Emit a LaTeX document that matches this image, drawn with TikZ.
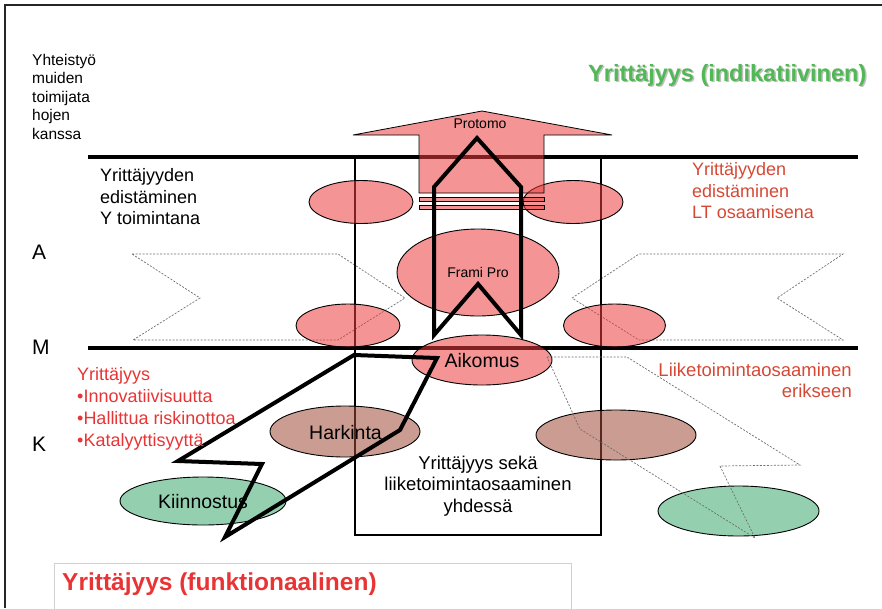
\documentclass[tikz,border=0pt]{standalone}
\usepackage{fontspec}
\setmainfont{Liberation Sans}
\definecolor{pinkbase}{RGB}{235,60,60}
\definecolor{brownbase}{RGB}{160,75,55}
\definecolor{greenbase}{RGB}{60,170,110}
\definecolor{brightred}{RGB}{232,52,52}
\definecolor{rustred}{RGB}{214,72,52}
\definecolor{titlegreen}{RGB}{82,184,86}
\definecolor{dashgray}{RGB}{110,110,110}
\begin{document}
\begin{tikzpicture}[x=1pt,y=-1pt,
  pinkel/.style={draw=black, line width=0.9pt, fill=pinkbase, fill opacity=0.55},
  brownel/.style={draw=black, line width=0.9pt, fill=brownbase, fill opacity=0.55},
  greenel/.style={draw=black, line width=0.9pt, fill=greenbase, fill opacity=0.55},
  thickrule/.style={line width=4pt},
  boldpath/.style={line width=4pt, line join=miter},
  dashpath/.style={draw=dashgray, line width=0.7pt, dash pattern=on 2pt off 1.5pt},
  txt/.style={inner sep=0pt, font=\fontsize{18}{22}\selectfont},
  smalltxt/.style={inner sep=0pt, font=\fontsize{15.5}{19}\selectfont},
  lettertxt/.style={inner sep=0pt, font=\fontsize{21}{25}\selectfont},
  eltxt/.style={inner sep=0pt, font=\fontsize{19.5}{23}\selectfont},
  tinytxt/.style={inner sep=0pt, font=\fontsize{14}{17}\selectfont}]
\useasboundingbox (0,0) rectangle (882,608);

% outer frame
\draw[line width=1.3pt, black!85] (5,608) -- (5,5) -- (882,5);

% dashed chevrons
\draw[dashpath] (132,254) -- (338,254) -- (405,298) -- (338,340) -- (133,340) -- (200,298) -- cycle;
\draw[dashpath] (572,298) -- (639,254) -- (843,254) -- (777,298) -- (843,340) -- (639,340) -- cycle;

% horizontal rules
\draw[thickrule] (88,157) -- (858,157);
\draw[thickrule] (88,348) -- (858,348);

% central frame
\draw[line width=1.2pt] (355,157) rectangle (601,535);

% bottom title box
\draw[line width=0.8pt, black!18] (54,610) -- (54,563) -- (571,563) -- (571,610);

% ellipses
\path[pinkel] (361,202) ellipse [x radius=52, y radius=21.5];
\path[pinkel] (573,202) ellipse [x radius=50, y radius=21.5];
\path[pinkel] (478,272.5) ellipse [x radius=81, y radius=43.5];
\path[pinkel] (348,325.5) ellipse [x radius=52, y radius=21.5];
\path[pinkel] (614.5,325.5) ellipse [x radius=51, y radius=21.5];
\path[pinkel] (482,360) ellipse [x radius=70, y radius=25];
\path[brownel] (345,431.5) ellipse [x radius=75, y radius=25.5];
\path[brownel] (616,435) ellipse [x radius=80, y radius=25];
\path[greenel] (203,501) ellipse [x radius=83, y radius=24];
\path[greenel] (738.5,511) ellipse [x radius=80.5, y radius=25];

% Protomo arrow with tail stripes
\path[pinkel, line width=0.8pt] (419,193) -- (419,135) -- (353,135) -- (482,111) -- (612,135) -- (544,135) -- (544,193) -- cycle;
\path[pinkel, line width=0.8pt] (419,197) rectangle (544,201);
\path[pinkel, line width=0.8pt] (419,205) rectangle (544,209);

% dashed lightning on the right
\draw[dashpath] (547,357) -- (627,357) -- (800,465) -- (720,466) -- (755,538) -- (580,429) -- cycle;

% bold house outline and lightning
\draw[boldpath] (434,335) -- (478,284) -- (521,335) -- (521,187) -- (477,138) -- (434,187) -- cycle;
\draw[boldpath] (354,355) -- (437,358) -- (400,430) -- (225,537) -- (262,464) -- (178,461) -- cycle;

% texts
\node[smalltxt, anchor=base west] (c1) at (32,65) {Yhteistyö};
\node[smalltxt, anchor=base west] (c2) at (32,83.5) {muiden};
\node[smalltxt, anchor=base west] (c3) at (32,102) {toimijata};
\node[smalltxt, anchor=base west] (c4) at (32,120.5) {hojen};
\node[smalltxt, anchor=base west] (c5) at (32,139) {kanssa};

\node[txt, anchor=base west] (y1) at (100,181) {Yrittäjyyden};
\node[txt, anchor=base west] (y2) at (100,203) {edistäminen};
\node[txt, anchor=base west] (y3) at (100,224.5) {Y toimintana};

\node[lettertxt, anchor=base west] (la) at (32,259) {A};
\node[lettertxt, anchor=base west] (lm) at (32,354.5) {M};
\node[lettertxt, anchor=base west] (lk) at (32,451) {K};

\node[txt, anchor=base west, text=brightred] (r1) at (77,380) {Yrittäjyys};
\node[txt, anchor=base west, text=brightred] (r2) at (77,402) {•Innovatiivisuutta};
\node[txt, anchor=base west, text=brightred] (r3) at (77,424) {•Hallittua riskinottoa};
\node[txt, anchor=base west, text=brightred] (r4) at (77,446) {•Katalyyttisyyttä};

\node[txt, anchor=base west, text=rustred] (lt1) at (692,175) {Yrittäjyyden};
\node[txt, anchor=base west, text=rustred] (lt2) at (692,197) {edistäminen};
\node[txt, anchor=base west, text=rustred] (lt3) at (692,218.5) {LT osaamisena};

\node[txt, anchor=base east, text=rustred, font=\fontsize{18.5}{22}\selectfont] (le1) at (852,376) {Liiketoimintaosaaminen};
\node[txt, anchor=base east, text=rustred, font=\fontsize{18.5}{22}\selectfont] (le2) at (852,397) {erikseen};

\node[txt, anchor=base, font=\fontsize{18.5}{22}\selectfont] (b1) at (478,469) {Yrittäjyys sekä};
\node[txt, anchor=base, font=\fontsize{18.5}{22}\selectfont] (b2) at (478,490.5) {liiketoimintaosaaminen};
\node[txt, anchor=base, font=\fontsize{18.5}{22}\selectfont] (b3) at (478,512.5) {yhdessä};

\node[eltxt, anchor=base] (aik) at (482,367) {Aikomus};
\node[eltxt, anchor=base] (har) at (345.5,439) {Harkinta};
\node[eltxt, anchor=base] (kii) at (203,508) {Kiinnostus};
\node[tinytxt, anchor=base] (fra) at (478,277) {Frami Pro};
\node[tinytxt, anchor=base] (pro) at (480,128) {Protomo};

% headings
\node[inner sep=0pt, anchor=base west, text=black!25, font=\bfseries\fontsize{23.5}{28}\selectfont] (indsh) at (589.5,82.5) {Yrittäjyys (indikatiivinen)};
\node[inner sep=0pt, anchor=base west, text=titlegreen, font=\bfseries\fontsize{23.5}{28}\selectfont] (ind) at (588,81) {Yrittäjyys (indikatiivinen)};
\node[inner sep=0pt, anchor=base west, text=brightred, font=\bfseries\fontsize{24.5}{29}\selectfont] (fun) at (62,590) {Yrittäjyys (funktionaalinen)};
\end{tikzpicture}
\end{document}
